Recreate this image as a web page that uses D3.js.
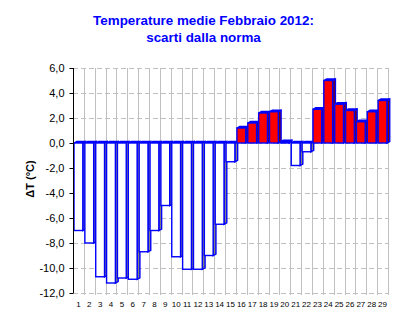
<!DOCTYPE html>
<html><head><meta charset="utf-8">
<script src="https://cdn.jsdelivr.net/npm/d3@7"></script>
<style>body{margin:0;background:#fff}svg{display:block}</style>
</head><body>
<script>
const titleLines = ["Temperature medie Febbraio 2012:", "scarti dalla norma"];
const yTitle = "\u0394T (\u00B0C)";
const days = ["1","2","3","4","5","6","7","8","9","10","11","12","13","14","15","16","17","18","19","20","21","22","23","24","25","26","27","28","29"];
const anomalies = [-7.0,-8.0,-10.7,-11.2,-10.8,-10.9,-8.7,-7.0,-5.0,-9.1,-10.1,-10.1,-9.0,-6.5,-1.5,1.2,1.6,2.4,2.5,0.1,-1.8,-0.7,2.7,5.0,3.1,2.6,1.7,2.5,3.4];
const yTicks = [-12,-10,-8,-6,-4,-2,0,2,4,6];

const W = 407, H = 333;
const svg = d3.select("body").append("svg").attr("width", W).attr("height", H);

const x = d3.scaleBand().domain(days).range([73, 388]).padding(0);
const y = d3.scaleLinear().domain([-12, 6]).range([293, 68]);
const fmt = v => d3.format(".1f")(v).replace(".", ",").replace("\u2212", "-");

// title
svg.append("g").selectAll("text").data(titleLines).join("text")
  .attr("x", 203.5).attr("y", (d, i) => 25 + i * 17)
  .attr("text-anchor", "middle")
  .attr("font-family", "Liberation Sans, Arial, sans-serif")
  .attr("font-weight", "bold").attr("font-size", 13.4)
  .attr("fill", "#0000ff").text(d => d);

// horizontal dashed gridlines
svg.append("g").selectAll("line").data(yTicks).join("line")
  .attr("x1", 73).attr("x2", 388)
  .attr("y1", d => Math.round(y(d)) + 0.5).attr("y2", d => Math.round(y(d)) + 0.5)
  .attr("stroke", "#c0c0c0").attr("stroke-width", 1)
  .attr("stroke-dasharray", "5,3");

// vertical gridlines at category boundaries
svg.append("g").selectAll("line").data(days).join("line")
  .attr("x1", d => Math.round(x(d) + x.bandwidth()) + 0.5)
  .attr("x2", d => Math.round(x(d) + x.bandwidth()) + 0.5)
  .attr("y1", 68).attr("y2", 295)
  .attr("stroke", "#c0c0c0").attr("stroke-width", 1);

// bars (3D style)
const dx = 2.8, dy = 1.5, fw = 8.8;
const y0 = y(0);
const bars = svg.append("g");
days.forEach((d, i) => {
  const v = anomalies[i];
  const xa = x(d) + 1, xb = xa + fw;
  const yv = y(v);
  const pos = v >= 0;
  const front = pos ? "#ff0000" : "#ffffff";
  const side = pos ? "#800000" : "#808080";
  const yt = Math.min(yv, y0), yb = Math.max(yv, y0);
  const g = bars.append("g").attr("stroke", "#0000ff").attr("stroke-width", 1.4).attr("stroke-linejoin", "miter");
  // side face
  g.append("path")
    .attr("d", `M${xb},${yt}L${xb + dx},${yt - dy}L${xb + dx},${yb - dy}L${xb},${yb}Z`)
    .attr("fill", side);
  // top face
  g.append("path")
    .attr("d", `M${xa},${yt}L${xa + dx},${yt - dy}L${xb + dx},${yt - dy}L${xb},${yt}Z`)
    .attr("fill", front);
  // front face
  g.append("rect").attr("x", xa).attr("y", yt).attr("width", fw).attr("height", Math.max(yb - yt, 0.01))
    .attr("fill", front);
});

// y axis
const ya = svg.append("g").attr("transform", "translate(73.5,0)")
  .call(d3.axisLeft(y).tickValues(yTicks).tickSize(4).tickPadding(5).tickFormat(fmt));
ya.select(".domain").attr("stroke", "#000").attr("d", `M0,${y(6)}V${y(-12)}`);
ya.selectAll(".tick line").attr("stroke", "#000");
ya.selectAll("text").attr("font-family", "Liberation Sans, Arial, sans-serif").attr("font-size", 11).attr("fill", "#000");

// x labels
svg.append("g").selectAll("text").data(days).join("text")
  .attr("x", d => x(d) + x.bandwidth() / 2).attr("y", 307)
  .attr("text-anchor", "middle")
  .attr("font-family", "Liberation Sans, Arial, sans-serif")
  .attr("font-size", 8).attr("fill", "#000").text(d => d);

// y title
svg.append("text")
  .attr("transform", "translate(34,179) rotate(-90)")
  .attr("text-anchor", "middle")
  .attr("font-family", "Liberation Sans, Arial, sans-serif")
  .attr("font-weight", "bold").attr("font-size", 11).attr("fill", "#000")
  .text(yTitle);
</script>
</body></html>
